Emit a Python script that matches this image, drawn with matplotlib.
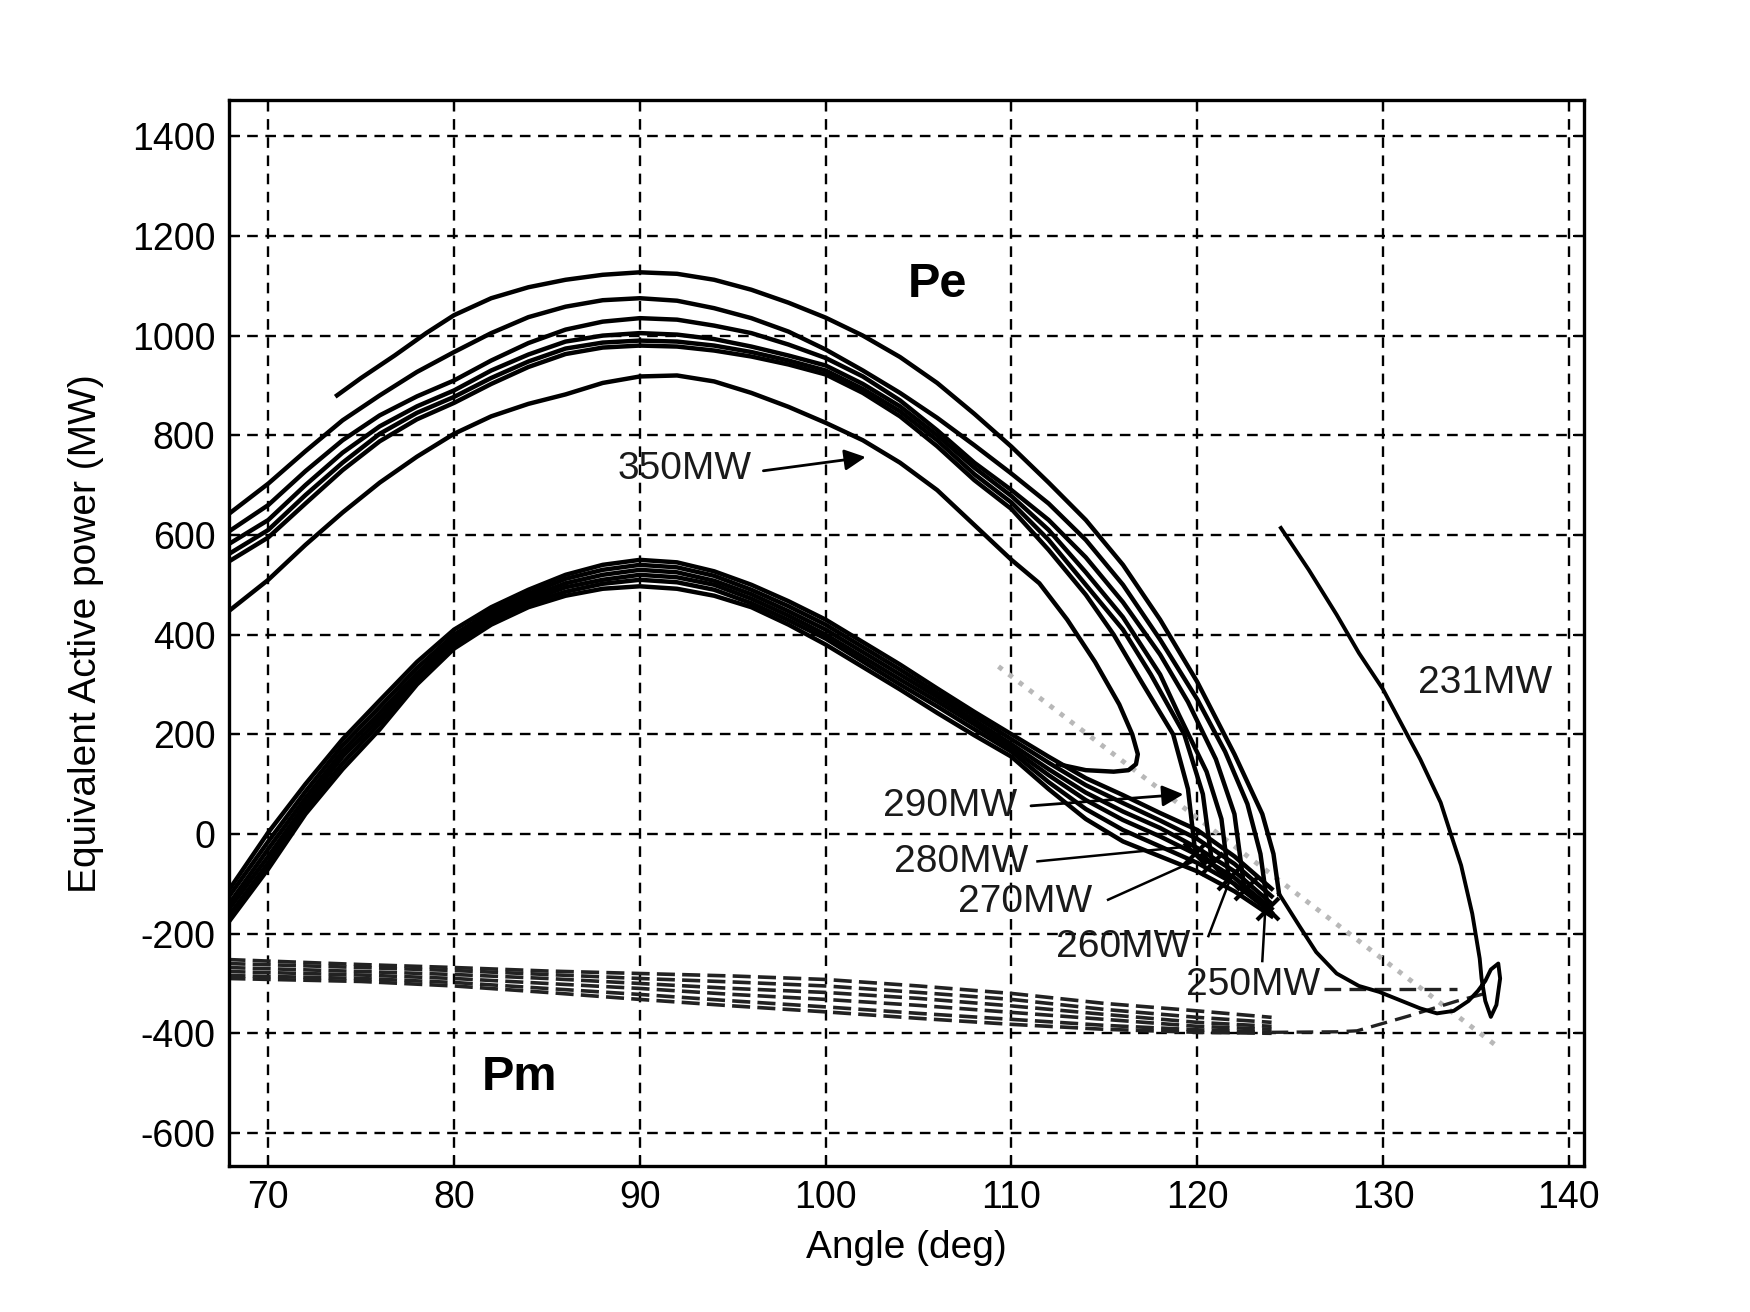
import matplotlib
matplotlib.use("Agg")
import matplotlib.pyplot as plt
import matplotlib.ticker as ticker

plt.rcParams['font.family'] = ['Liberation Sans', 'DejaVu Sans']
plt.rcParams['axes.unicode_minus'] = False

# ---- Pe curves, one per load case (upper family) ----
pe231_x = [73.7, 75, 76.8, 78.5, 80, 82, 84, 86, 88, 90, 92, 94, 96, 98, 100, 102, 104, 106, 108, 110,
           112, 114, 116, 118, 120, 122, 123.5, 124.1, 124.4]
pe231_y = [880, 915, 960, 1005, 1041, 1075, 1097, 1112, 1122, 1127, 1124, 1112, 1092, 1066, 1036, 1000, 957, 905, 843, 777,
           705, 630, 540, 430, 305, 160, 40, -40, -120]
# 231MW case after the first swing: slides down to the loop and comes back up
tail231_x = [124.4, 125.5, 126.4, 127.5, 128.7, 129.8, 131, 132, 132.9, 133.8, 134.6, 135.1, 135.5, 135.8, 136.2, 136.3,
             136.1, 135.8, 135.5, 135.3, 135.2, 134.8, 134.2, 133.6, 133.1, 132, 131, 130, 128.7, 127.5, 126, 124.5]
tail231_y = [-120, -185, -237, -280, -305, -317, -335, -350, -360, -355, -335, -315, -295, -272, -260, -290,
             -343, -367, -335, -290, -250, -160, -63, 5, 63, 150, 220, 290, 363, 440, 530, 614]

pe250_x = [67.8, 70, 72, 74, 76, 78, 80, 82, 84, 86, 88, 90, 92, 94, 96, 98, 100, 102, 104, 106, 108, 110,
           112, 114, 116, 118, 120, 121.5, 122.7, 123.4, 123.8]
pe250_y = [640, 703, 768, 830, 880, 927, 967, 1005, 1037, 1058, 1071, 1075, 1070, 1055, 1035, 1008, 972, 930, 885, 835, 780, 723,
           663, 590, 500, 390, 270, 165, 60, -40, -150]
pe260_x = [67.8, 70, 72, 74, 76, 78, 80, 82, 84, 86, 88, 90, 92, 94, 96, 98, 100, 102, 104, 106, 108, 110,
           112, 114, 116, 118, 119.5, 121, 122, 122.5]
pe260_y = [605, 660, 728, 790, 840, 878, 910, 950, 985, 1012, 1028, 1035, 1032, 1020, 1005, 982, 955, 918, 870, 810, 745, 690,
           630, 555, 465, 360, 265, 150, 40, -100]
pe270_x = [67.8, 70, 72, 74, 76, 78, 80, 82, 84, 86, 88, 90, 92, 94, 96, 98, 100, 102, 104, 106, 108, 110,
           112, 114, 116, 118, 119, 120.5, 121.3, 121.7]
pe270_y = [580, 630, 700, 765, 818, 858, 890, 930, 962, 988, 1000, 1005, 1002, 993, 978, 960, 940, 903, 858, 800, 735, 678,
           610, 525, 435, 320, 240, 125, 30, -90]
pe280_x = [67.8, 70, 72, 74, 76, 78, 80, 82, 84, 86, 88, 90, 92, 94, 96, 98, 100, 102, 104, 106, 108, 110,
           112, 114, 116, 117.5, 119.3, 120.3, 120.8]
pe280_y = [560, 610, 680, 745, 803, 845, 877, 915, 948, 974, 986, 990, 988, 980, 967, 950, 930, 893, 848, 790, 722, 665,
           590, 500, 410, 320, 200, 80, -60]
pe290_x = [67.8, 70, 72, 74, 76, 78, 80, 82, 84, 86, 88, 90, 92, 94, 96, 98, 100, 102, 104, 106, 108, 110,
           112, 114, 115.5, 117, 118.7, 119.5, 119.9]
pe290_y = [545, 595, 663, 730, 788, 832, 865, 903, 937, 963, 976, 980, 978, 970, 958, 942, 922, 885, 838, 778, 710, 652,
           570, 480, 400, 305, 200, 90, -40]
pe350_x = [67.8, 70, 72, 74, 76, 78, 80, 82, 84, 86, 88, 90, 92, 94, 96, 98, 100, 102, 104, 106, 108, 110,
           111.5, 113, 114.5, 115.8, 116.5, 116.8, 116.7, 116.3, 115.5, 114, 112.5]
pe350_y = [445, 510, 580, 645, 705, 757, 803, 838, 863, 882, 905, 918, 920, 908, 885, 857, 825, 790, 745, 690, 620, 550,
           503, 430, 345, 260, 200, 160, 140, 128, 125, 128, 140]

# ---- Pe after the fault (lower thick band) ----
band_x = [67.8, 70, 72, 74, 76, 78, 80, 82, 84, 86, 88, 90, 92, 94, 96, 98, 100, 102, 104, 106, 108, 110,
          112, 114, 116, 118, 120, 122, 124]
band_1 = [-117, 3, 100, 190, 268, 345, 410, 455, 490, 520, 540, 550, 545, 527, 500, 467, 430, 385, 340, 292, 245, 200,
          155, 112, 78, 42, 8, -45, -110]
band_2 = [-130, -15, 85, 178, 255, 333, 400, 447, 482, 512, 530, 540, 535, 518, 490, 457, 420, 375, 330, 283, 237, 190,
          143, 98, 62, 27, -10, -60, -125]
band_3 = [-145, -30, 72, 166, 243, 322, 392, 440, 475, 503, 520, 530, 525, 508, 481, 447, 410, 365, 320, 275, 228, 180,
          130, 83, 45, 12, -28, -75, -140]
band_4 = [-155, -45, 60, 155, 232, 315, 385, 432, 468, 495, 510, 520, 515, 500, 472, 438, 400, 355, 310, 266, 220, 172,
          118, 68, 28, -5, -42, -88, -150]
band_5 = [-168, -58, 50, 142, 222, 308, 378, 426, 462, 486, 502, 510, 505, 490, 463, 429, 392, 346, 300, 256, 210, 165,
          104, 50, 8, -25, -58, -100, -158]
band_6 = [-180, -70, 40, 130, 210, 300, 372, 420, 455, 478, 492, 497, 492, 478, 455, 420, 380, 335, 290, 243, 198, 155,
          90, 30, -15, -45, -75, -115, -165]

# ---- Pm (dashed) ----
pm_x = [67.8, 75, 80, 85, 90, 95, 100, 105, 110, 115, 120, 124]
pm_1 = [-252, -262, -268, -275, -280, -285, -292, -305, -320, -340, -355, -368]
pm_2 = [-260, -268, -274, -282, -290, -297, -305, -318, -332, -352, -368, -378]
pm_3 = [-268, -276, -282, -290, -300, -310, -318, -330, -345, -362, -378, -386]
pm_4 = [-276, -283, -290, -300, -310, -322, -332, -344, -358, -372, -386, -392]
pm_5 = [-284, -290, -298, -310, -322, -335, -347, -360, -372, -384, -393, -398]
pm_6 = [-290, -296, -305, -318, -332, -345, -357, -370, -382, -392, -398, -400]
pm_tail_x = [124, 127.5, 128.6, 131.4, 134, 135.5]
pm_tail_y = [-398, -397, -395, -365, -335, -320]
pm_flat_x = [126.8, 134]
pm_flat_y = [-312, -312]

# gray dotted reference line
ref_x = [109.3, 136.1]
ref_y = [336, -425]

# crossing marks
mark_x = [119.9, 120.8, 121.7, 122.6, 123.8]
mark_y = [-40, -60, -90, -110, -150]

fig = plt.figure(figsize=(17.5, 13.12), dpi=100)
ax = fig.add_axes([0.131, 0.111, 0.774, 0.8125])

ax.plot(ref_x, ref_y, color='#b8b8b8', lw=3.5, linestyle=':', zorder=1)

for by in [band_1, band_2, band_3, band_4, band_5, band_6]:
    ax.plot(band_x, by, color='black', lw=3.2, zorder=3)

for xs, ys in [(pe231_x, pe231_y), (pe250_x, pe250_y), (pe260_x, pe260_y),
               (pe270_x, pe270_y), (pe280_x, pe280_y), (pe290_x, pe290_y),
               (pe350_x, pe350_y)]:
    ax.plot(xs, ys, color='black', lw=3.2, zorder=3)
ax.plot(tail231_x, tail231_y, color='black', lw=2.8, zorder=3)

for py in [pm_1, pm_2, pm_3, pm_4, pm_5, pm_6]:
    ax.plot(pm_x, py, color='#222222', lw=2.6, linestyle=(0, (5, 2)), zorder=2)
ax.plot(pm_tail_x, pm_tail_y, color='#222222', lw=2.4, linestyle=(0, (5, 2.5)), zorder=2)
ax.plot(pm_flat_x, pm_flat_y, color='#222222', lw=2.4, linestyle=(0, (5, 2.5)), zorder=2)

ax.plot(mark_x, mark_y, linestyle='none', marker='x', ms=16, mew=3, color='black', zorder=4)

# annotations
lab = dict(fontsize=28, color='#1a1a1a', va='center', ha='left')
ax.text(88.8, 733, '350MW', **lab)
ax.annotate('', xy=(102.3, 757), xytext=(96.5, 728),
            arrowprops=dict(arrowstyle='-|>', color='black', lw=2, mutation_scale=32))
ax.text(103.1, 56, '290MW', **lab)
ax.annotate('', xy=(119.4, 80), xytext=(110.9, 56),
            arrowprops=dict(arrowstyle='-|>', color='black', lw=2, mutation_scale=32))
ax.text(103.7, -56, '280MW', **lab)
ax.plot([111.4, 119.6], [-55, -25], color='black', lw=1.8)
ax.text(107.1, -137, '270MW', **lab)
ax.plot([115.2, 119.8], [-132, -55], color='black', lw=1.8)
ax.text(112.4, -226, '260MW', **lab)
ax.plot([120.6, 121.8], [-205, -88], color='black', lw=1.8)
ax.text(119.4, -304, '250MW', **lab)
ax.plot([123.5, 123.7], [-255, -125], color='black', lw=1.8)
ax.text(131.9, 303, '231MW', **lab)

ax.text(106.0, 1102, 'Pe', fontsize=35, fontweight='bold', ha='center', va='center')
ax.text(83.5, -488, 'Pm', fontsize=35, fontweight='bold', ha='center', va='center')

ax.set_xlim(67.9, 140.8)
ax.set_ylim(-667, 1472)
ax.xaxis.set_major_locator(ticker.MultipleLocator(10))
ax.yaxis.set_major_locator(ticker.MultipleLocator(200))
ax.grid(True, color='black', lw=1.7, linestyle=(0, (4.5, 3.2)))
ax.set_axisbelow(True)
for s in ax.spines.values():
    s.set_linewidth(2.4)
ax.tick_params(direction='in', length=8, width=1.5, labelsize=27, top=True, right=True, pad=10)

ax.set_xlabel('Angle (deg)', fontsize=28, labelpad=10)
ax.set_ylabel('Equivalent Active power (MW)', fontsize=28, labelpad=20)

fig.savefig('out.png', dpi=100, facecolor='white')
